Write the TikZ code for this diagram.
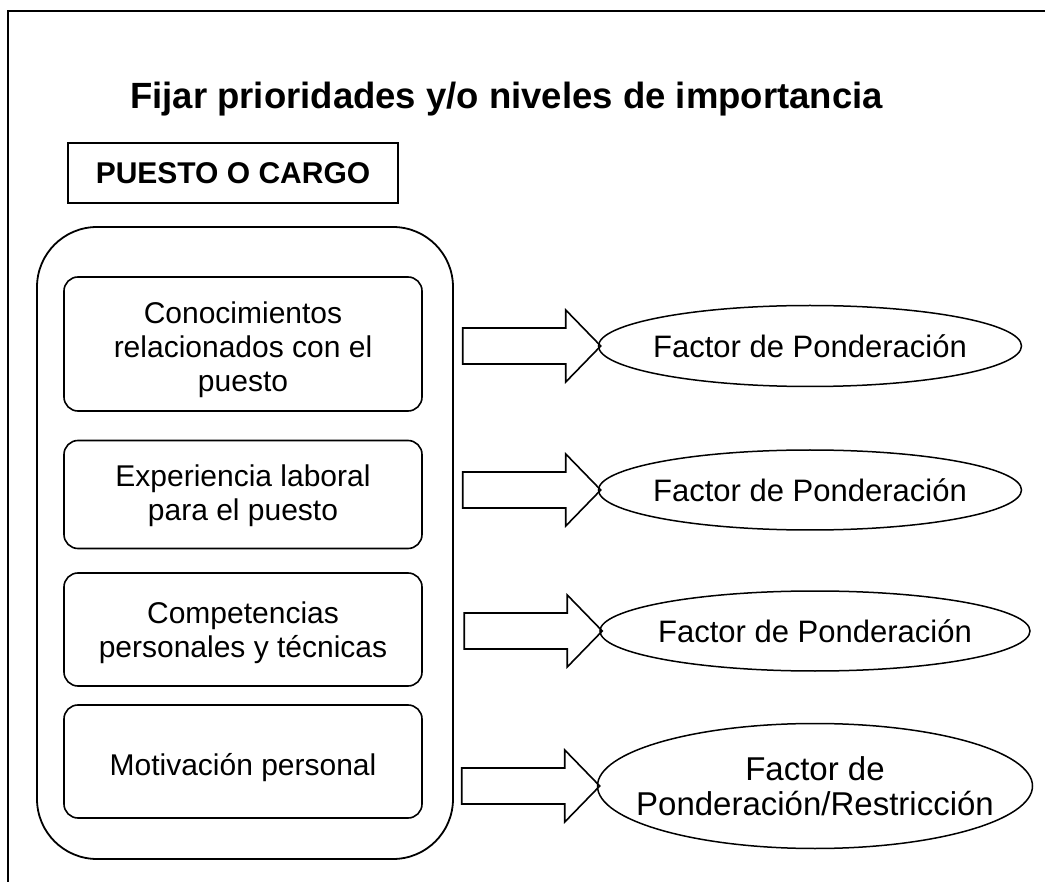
\documentclass[tikz,border=0pt]{standalone}
\usepackage{fontspec}
\setmainfont{Liberation Sans}
\usetikzlibrary{shapes.geometric}
\newcommand{\lowerby}[1]{\rule{0pt}{\dimexpr 22pt+2\dimexpr #1\relax\relax}}
\begin{document}
\begin{tikzpicture}[x=1pt,y=-1pt,
  frameline/.style={line width=2pt},
  container/.style={draw, line width=1.8pt, rounded corners=60pt, minimum width=416pt, minimum height=632pt, inner sep=0pt},
  itembox/.style={draw, line width=1.6pt, rounded corners=14pt, minimum width=358pt, inner sep=0pt, align=center, font=\fontsize{30}{34}\selectfont},
  factor/.style={draw, ellipse, line width=1.5pt, inner xsep=-50pt, inner ysep=0pt, align=center, font=\fontsize{31}{35}\selectfont},
  blockarrow/.style={draw, line width=1.6pt, line join=miter},
  ]
\useasboundingbox (0,0) rectangle (1045,882);
\draw[frameline] (8,882) -- (8,11) -- (1045,11);

\node[anchor=base, font=\bfseries\fontsize{36.5}{40}\selectfont] (title) at (506.5,109) {Fijar prioridades y/o niveles de importancia};

\node[draw, line width=1.3pt, minimum width=330pt, minimum height=60pt, inner sep=0pt, font=\bfseries\fontsize{30}{35}\selectfont] (cargo) at (233,173) {PUESTO O CARGO};

\node[container] (cont) at (245,543) {};

\node[itembox, minimum height=134pt] (b1) at (243,344) {\lowerby{6pt}Conocimientos\\relacionados con el\\puesto};
\node[itembox, minimum height=108pt] (b2) at (243,494.5) {\lowerby{1pt}Experiencia laboral\\para el puesto};
\node[itembox, minimum height=113pt] (b3) at (243,629.5) {\lowerby{3pt}Competencias\\personales y técnicas};
\node[itembox, minimum height=113pt] (b4) at (243,761.5) {\lowerby{6pt}Motivación personal};

\node[factor, minimum width=423pt, minimum height=81pt] (f1) at (810,346) {Factor de Ponderación};
\node[factor, minimum width=423pt, minimum height=80pt] (f2) at (810,490) {Factor de Ponderación};
\node[factor, minimum width=430pt, minimum height=80pt] (f3) at (815,631) {Factor de Ponderación};
\node[factor, minimum width=435pt, minimum height=125pt, font=\fontsize{33}{35}\selectfont] (f4) at (815,786) {Factor de\\Ponderación/Restricción};

\foreach \e in {f1,f2,f3,f4}
  \draw[blockarrow] ([shift={(-135,-18)}]\e.west) -- ++(103,0) -- ++(0,-18) -- ([xshift=3pt]\e.west) -- ++(-35,36) -- ++(0,-18) -- ++(-103,0) -- cycle;
\end{tikzpicture}
\end{document}
